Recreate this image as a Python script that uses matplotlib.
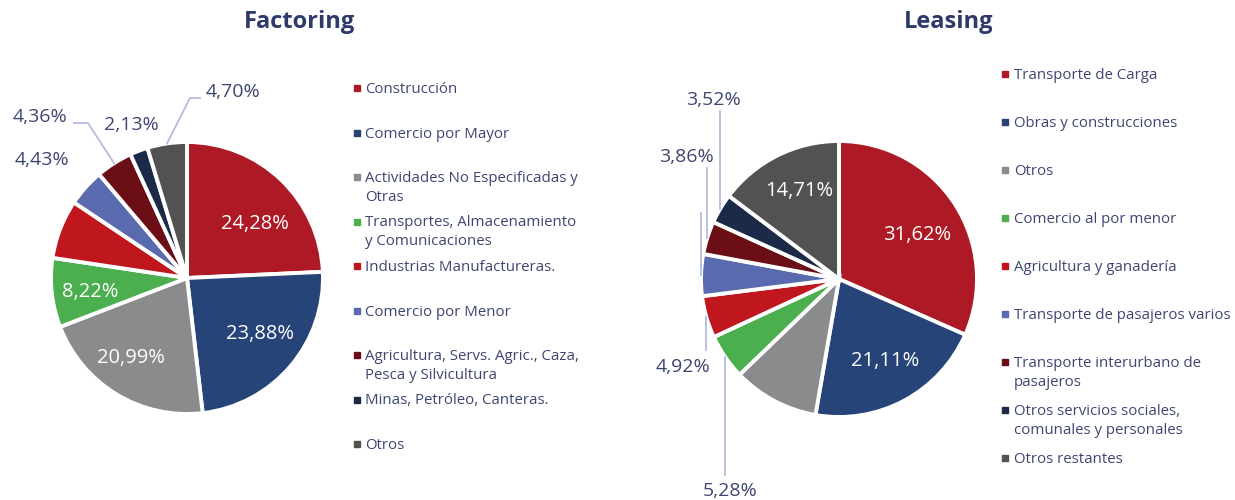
import matplotlib
matplotlib.use("Agg")
import matplotlib.pyplot as plt
import numpy as np

plt.rcParams['font.family'] = ['Open Sans', 'DejaVu Sans']

W, H = 1235, 500

# ---- data ----
fact_labels = ["Construcción", "Comercio por Mayor", "Actividades No Especificadas y\nOtras",
               "Transportes, Almacenamiento\ny Comunicaciones", "Industrias Manufactureras.",
               "Comercio por Menor", "Agricultura, Servs. Agric., Caza,\nPesca y Silvicultura",
               "Minas, Petróleo, Canteras.", "Otros"]
fact_values = [24.28, 23.88, 20.99, 8.22, 7.01, 4.43, 4.36, 2.13, 4.70]

leas_labels = ["Transporte de Carga", "Obras y construcciones", "Otros", "Comercio al por menor",
               "Agricultura y ganadería", "Transporte de pasajeros varios",
               "Transporte interurbano de\npasajeros", "Otros servicios sociales,\ncomunales y personales",
               "Otros restantes"]
leas_values = [31.62, 21.11, 10.08, 5.28, 4.92, 4.90, 3.86, 3.52, 14.71]

colors = ["#AD1A25", "#264478", "#8A8B8C", "#4BAE4F", "#C0171F",
          "#5A6AAE", "#6B0E16", "#1B2A47", "#515251"]

TXT = "#3D4670"
TITLE = "#2E3A6B"
LINE = "#B4BCE0"
IN_FS = 14.5
OUT_FS = 14


def fmt(v):
    return f"{v:.2f}".replace(".", ",") + "%"


def make_pie(cx, cy, r):
    ax = fig.add_axes([(cx - r) / W, (H - cy - r) / H, 2 * r / W, 2 * r / H])
    ax.axis("off")
    return ax


def mid_point(w, rad=1.0, shift=0.0):
    a = np.deg2rad((w.theta1 + w.theta2) / 2 + shift)
    return rad * np.cos(a), rad * np.sin(a)


def to_data(px, py, cx, cy, r):
    return (px - cx) / r, (cy - py) / r


fig = plt.figure(figsize=(W / 100, H / 100), dpi=100)

# ---- Factoring ----
fcx, fcy, fr = 187, 278, 136
ax1 = make_pie(fcx, fcy, fr)
w1, _ = ax1.pie(fact_values, colors=colors, startangle=90, counterclock=False, radius=1,
                wedgeprops=dict(edgecolor="white", linewidth=2.8))
ax1.set_xlim(-1, 1)
ax1.set_ylim(-1, 1)
# (slice index, radius, angle shift in degrees)
for i, rad, sh in [(0, 0.64, -8), (1, 0.68, 3), (2, 0.72, -4), (3, 0.72, 2)]:
    x, y = mid_point(w1[i], rad, sh)
    ax1.text(x, y, fmt(fact_values[i]), color="white", fontsize=IN_FS, ha="center", va="center")

# outside labels
fig.text(42 / W, 1 - 160 / H, fmt(fact_values[5]), color=TXT, fontsize=OUT_FS, ha="center", va="center")
fig.text(40 / W, 1 - 117 / H, fmt(fact_values[6]), color=TXT, fontsize=OUT_FS, ha="center", va="center")
fig.text(131 / W, 1 - 125 / H, fmt(fact_values[7]), color=TXT, fontsize=OUT_FS, ha="center", va="center")
fig.text(233 / W, 1 - 92 / H, fmt(fact_values[8]), color=TXT, fontsize=OUT_FS, ha="center", va="center")

ax_x, ax_y = mid_point(w1[6])
p1 = to_data(74, 123, fcx, fcy, fr)
p2 = to_data(88, 123, fcx, fcy, fr)
ax1.plot([p1[0], p2[0], ax_x], [p1[1], p2[1], ax_y], color=LINE, lw=1.3, clip_on=False)
ax_x, ax_y = mid_point(w1[8])
p1 = to_data(200, 98, fcx, fcy, fr)
p2 = to_data(190, 98, fcx, fcy, fr)
ax1.plot([p1[0], p2[0], ax_x], [p1[1], p2[1], ax_y], color=LINE, lw=1.3, clip_on=False)

# ---- Leasing ----
lcx, lcy, lr = 839, 279, 138
ax2 = make_pie(lcx, lcy, lr)
w2, _ = ax2.pie(leas_values, colors=colors, startangle=90, counterclock=False, radius=1,
                wedgeprops=dict(edgecolor="white", linewidth=2.8))
ax2.set_xlim(-1, 1)
ax2.set_ylim(-1, 1)
for i, rad, sh in [(0, 0.65, -4), (1, 0.68, 1), (8, 0.7, -2)]:
    x, y = mid_point(w2[i], rad, sh)
    ax2.text(x, y, fmt(leas_values[i]), color="white", fontsize=IN_FS, ha="center", va="center")

# (index, line end y px, label x px, label y px)
leas_out = [(7, 111, 713, 100), (6, 168, 686, 157), (5, 213, None, None),
            (4, 350, 683, 367), (3, 475, 730, 491)]
for idx, yend, lx, ly in leas_out:
    ax_x, ax_y = mid_point(w2[idx])
    ye = to_data(0, yend, lcx, lcy, lr)[1]
    ax2.plot([ax_x, ax_x], [ax_y, ye], color=LINE, lw=1.3, clip_on=False)
    if lx is not None:
        fig.text(lx / W, 1 - ly / H, fmt(leas_values[idx]), color=TXT, fontsize=OUT_FS,
                 ha="center", va="center")

# ---- titles ----
fig.text(300 / W, 1 - 22 / H, "Factoring", color=TITLE, fontsize=17, fontweight="bold",
         ha="center", va="center")
fig.text(949 / W, 1 - 22 / H, "Leasing", color=TITLE, fontsize=17, fontweight="bold",
         ha="center", va="center")

# ---- legends ----
def legend(labels, x_mark, x_text, y0, step):
    for i, lab in enumerate(labels):
        y = y0 + i * step
        fig.patches.append(plt.Rectangle(((x_mark - 3) / W, 1 - (y + 3) / H), 6 / W, 6 / H,
                                         transform=fig.transFigure, color=colors[i], figure=fig))
        fig.text(x_text / W, 1 - (y - 6) / H, lab, color=TXT, fontsize=10.8, ha="left", va="top",
                 linespacing=1.35)


legend(fact_labels, 357, 365, 88, 44.5)
legend(leas_labels, 1005, 1014, 74, 48)

fig.savefig("out.png", dpi=100, facecolor="white")
